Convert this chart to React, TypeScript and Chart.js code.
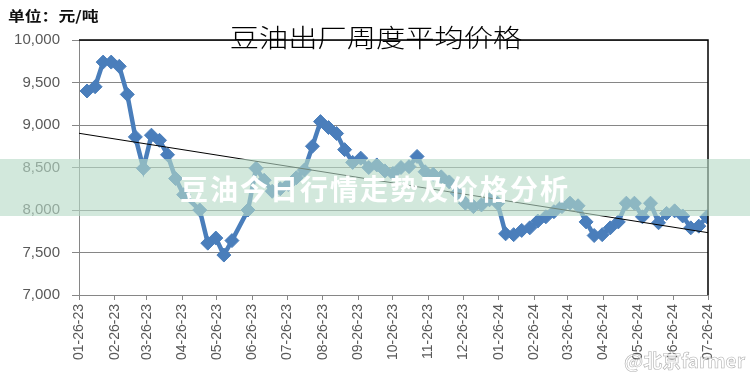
import React, { useEffect, useRef } from 'react';
import { Chart, registerables } from 'chart.js';

Chart.register(...registerables);

// Weekly observation dates (two weeks have no data: 2023-05-04, 2023-06-15)
const weekDates = [
  '2023-02-02', '2023-02-09', '2023-02-16', '2023-02-23', '2023-03-02', '2023-03-09',
  '2023-03-16', '2023-03-23', '2023-03-30', '2023-04-06', '2023-04-13', '2023-04-20',
  '2023-04-27', '2023-05-11', '2023-05-18', '2023-05-25', '2023-06-01', '2023-06-08',
  '2023-06-22', '2023-06-29', '2023-07-06', '2023-07-13', '2023-07-20', '2023-07-27',
  '2023-08-03', '2023-08-10', '2023-08-17', '2023-08-24', '2023-08-31', '2023-09-07',
  '2023-09-14', '2023-09-21', '2023-09-28', '2023-10-05', '2023-10-12', '2023-10-19',
  '2023-10-26', '2023-11-02', '2023-11-09', '2023-11-16', '2023-11-23', '2023-11-30',
  '2023-12-07', '2023-12-14', '2023-12-21', '2023-12-28', '2024-01-04', '2024-01-11',
  '2024-01-18', '2024-01-25', '2024-02-01', '2024-02-08', '2024-02-15', '2024-02-22',
  '2024-02-29', '2024-03-07', '2024-03-14', '2024-03-21', '2024-03-28', '2024-04-04',
  '2024-04-11', '2024-04-18', '2024-04-25', '2024-05-02', '2024-05-09', '2024-05-16',
  '2024-05-23', '2024-05-30', '2024-06-06', '2024-06-13', '2024-06-20', '2024-06-27',
  '2024-07-04', '2024-07-11', '2024-07-18', '2024-07-25',
];

// Soybean oil ex-factory weekly average price (元/吨)
const prices = [
  9400, 9450, 9740, 9740, 9690, 9360,
  8860, 8490, 8880, 8820, 8650, 8370,
  8180, 8000, 7610, 7670, 7470, 7640,
  8000, 8490, 8350, 8220, 8250, 8300,
  8380, 8470, 8750, 9040, 8970, 8900,
  8710, 8560, 8610, 8500, 8530, 8460,
  8430, 8500, 8510, 8630, 8450, 8420,
  8390, 8330, 8200, 8080, 8040, 8060,
  8120, 8080, 7720, 7710, 7760, 7790,
  7870, 7920, 7980, 8040, 8080, 8050,
  7860, 7700, 7710, 7790, 7860, 8080,
  8080, 7920, 8080, 7850, 7960, 7990,
  7930, 7790, 7810, 7920,
];

const tickDates = [
  '2023-01-26', '2023-02-26', '2023-03-26', '2023-04-26', '2023-05-26', '2023-06-26',
  '2023-07-26', '2023-08-26', '2023-09-26', '2023-10-26', '2023-11-26', '2023-12-26',
  '2024-01-26', '2024-02-26', '2024-03-26', '2024-04-26', '2024-05-26', '2024-06-26',
  '2024-07-26',
];
const tickLabels = [
  '01-26-23', '02-26-23', '03-26-23', '04-26-23', '05-26-23', '06-26-23',
  '07-26-23', '08-26-23', '09-26-23', '10-26-23', '11-26-23', '12-26-23',
  '01-26-24', '02-26-24', '03-26-24', '04-26-24', '05-26-24', '06-26-24',
  '07-26-24',
];
const yTicks = [7000, 7500, 8000, 8500, 9000, 9500, 10000];

const titleText = '豆油出厂周度平均价格';
const unitText = '单位：元/吨';
const bannerText = '豆油今日行情走势及价格分析';
const watermarkText = '@北京farmer';

const DAY_MS = 86400000;
const ORIGIN = Date.UTC(2023, 0, 26);
const toDay = (s: string) => {
  const [y, m, d] = s.split('-').map(Number);
  return (Date.UTC(y, m - 1, d) - ORIGIN) / DAY_MS;
};

const axisMin = toDay(tickDates[0]);
const axisMax = toDay(tickDates[tickDates.length - 1]);

const points = weekDates.map((d, i) => ({ x: toDay(d), y: prices[i] }));

// Linear trend (least squares) over the data
const n = points.length;
const mx = points.reduce((a, p) => a + p.x, 0) / n;
const my = points.reduce((a, p) => a + p.y, 0) / n;
const slope =
  points.reduce((a, p) => a + (p.x - mx) * (p.y - my), 0) /
  points.reduce((a, p) => a + (p.x - mx) * (p.x - mx), 0);
const intercept = my - slope * mx;
const trendPoints = [axisMin, axisMax].map((x) => ({ x, y: intercept + slope * x }));

const plotBorder = {
  id: 'plotBorder',
  afterDatasetsDraw(chart: any) {
    const { ctx, chartArea } = chart;
    ctx.save();
    ctx.strokeStyle = '#000';
    ctx.lineWidth = 1.5;
    ctx.beginPath();
    ctx.moveTo(chartArea.left, chartArea.top);
    ctx.lineTo(chartArea.right, chartArea.top);
    ctx.lineTo(chartArea.right, chartArea.bottom);
    ctx.stroke();
    ctx.restore();
  },
};

export default function App() {
  const canvasRef = useRef<HTMLCanvasElement | null>(null);

  useEffect(() => {
    if (!canvasRef.current) return;
    const chart = new Chart(canvasRef.current, {
      type: 'line',
      data: {
        datasets: [
          {
            label: '趋势线',
            data: trendPoints,
            borderColor: '#000',
            borderWidth: 1,
            pointRadius: 0,
            fill: false,
            order: 0,
          },
          {
            label: '豆油出厂周度平均价格',
            data: points,
            borderColor: '#4A7EBB',
            backgroundColor: '#4A7EBB',
            borderWidth: 4.5,
            pointStyle: 'rectRot',
            pointRadius: 7,
            pointBorderWidth: 1,
            pointBorderColor: '#4A7EBB',
            pointBackgroundColor: '#4A7EBB',
            tension: 0,
            fill: false,
            order: 1,
          },
        ],
      },
      options: {
        animation: false,
        responsive: false,
        maintainAspectRatio: false,
        layout: { padding: { left: 0, top: 40, right: 42, bottom: 0 } },
        plugins: {
          legend: { display: false },
          title: { display: false },
          tooltip: { enabled: false },
        },
        scales: {
          x: {
            type: 'linear',
            min: axisMin,
            max: axisMax,
            afterBuildTicks: (s: any) => {
              s.ticks = tickDates.map((d) => ({ value: toDay(d) }));
            },
            afterFit: (s: any) => {
              s.height = 82;
            },
            ticks: {
              autoSkip: false,
              minRotation: 90,
              maxRotation: 90,
              padding: 4,
              color: '#595959',
              font: { family: 'Liberation Sans', size: 14 },
              callback: (_v: any, i: number) => tickLabels[i],
            },
            grid: { drawOnChartArea: false, drawTicks: true, tickLength: 5, color: '#868686' },
            border: { color: '#868686' },
          },
          y: {
            min: 7000,
            max: 10000,
            afterBuildTicks: (s: any) => {
              s.ticks = yTicks.map((v) => ({ value: v }));
            },
            afterFit: (s: any) => {
              s.width = 79;
            },
            ticks: {
              padding: 12,
              color: '#595959',
              font: { family: 'Liberation Sans', size: 15 },
              callback: (v: any) => Number(v).toLocaleString('en-US'),
            },
            grid: { color: '#868686', lineWidth: 1, tickLength: 7 },
            border: { color: '#868686' },
          },
        },
      },
      plugins: [plotBorder],
    });
    return () => chart.destroy();
  }, []);

  return (
    <div
      style={{
        position: 'absolute',
        left: 0,
        top: 0,
        width: 750,
        height: 377,
        background: '#fff',
        overflow: 'hidden',
      }}
    >
      <canvas ref={canvasRef} width={750} height={377} style={{ position: 'absolute', left: 0, top: 0 }} />
      <div
        style={{
          position: 'absolute',
          left: 8,
          top: 7,
          fontFamily: '"Noto Sans CJK SC", sans-serif',
          fontWeight: 700,
          fontSize: 14,
          lineHeight: '17px',
          color: '#111',
          transform: 'scaleX(1.2)',
          transformOrigin: 'left center',
          whiteSpace: 'nowrap',
        }}
      >
        {unitText}
      </div>
      <div
        style={{
          position: 'absolute',
          left: 0,
          width: 752,
          top: 23,
          textAlign: 'center',
          fontFamily: '"Noto Sans CJK SC", serif',
          fontWeight: 300,
          fontSize: 25,
          lineHeight: '27px',
          color: '#000',
          transform: 'scaleX(1.17)',
          transformOrigin: '376px center',
          whiteSpace: 'nowrap',
        }}
      >
        {titleText}
      </div>
      <div
        style={{
          position: 'absolute',
          left: 0,
          top: 159,
          width: 750,
          height: 57,
          background: 'rgba(183, 218, 198, 0.62)',
          display: 'flex',
          alignItems: 'center',
          justifyContent: 'center',
        }}
      >
        <span
          style={{
            fontFamily: '"Noto Sans CJK SC", sans-serif',
            fontWeight: 700,
            fontSize: 28,
            letterSpacing: 2,
            color: '#fff',
            whiteSpace: 'nowrap',
          }}
        >
          {bannerText}
        </span>
      </div>
      <div
        style={{
          position: 'absolute',
          left: 624,
          top: 348,
          fontFamily: '"Noto Sans CJK SC", sans-serif',
          fontWeight: 700,
          fontSize: 19,
          lineHeight: '24px',
          color: 'rgba(255,255,255,0.75)',
          WebkitTextStroke: '0.6px rgba(110,110,110,0.55)',
          whiteSpace: 'nowrap',
        }}
      >
        {watermarkText}
      </div>
    </div>
  );
}
